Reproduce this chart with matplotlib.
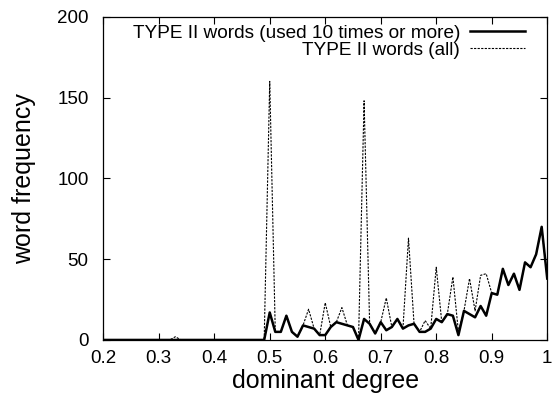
import numpy as np
import matplotlib
matplotlib.use("Agg")
import matplotlib.pyplot as plt

plt.rcParams['font.family'] = ['Liberation Sans', 'DejaVu Sans']

# dominant degree bins (0.20 .. 1.00, step 0.01)
degree = np.arange(20, 101) / 100.0

# TYPE II words used 10 times or more
freq_10plus = [0] * 29 + [
    0, 17, 5, 5, 15, 5, 2, 9, 8, 7,      # 0.49 - 0.58
    3, 3, 8, 11, 10, 9, 8, 0, 13, 10,    # 0.59 - 0.68
    4, 11, 6, 8, 13, 7, 9, 10, 5, 5,     # 0.69 - 0.78
    7, 13, 11, 16, 15, 3, 18, 16, 14, 21,  # 0.79 - 0.88
    15, 29, 28, 44, 34, 41, 31, 48, 45, 53,  # 0.89 - 0.98
    70, 38,                              # 0.99 - 1.00
]

# TYPE II words (all)
freq_all = [0] * 13 + [2] + [0] * 15 + [
    0, 160, 5, 5, 15, 5, 2, 9, 19, 7,    # 0.49 - 0.58
    3, 23, 8, 11, 20, 9, 8, 0, 148, 10,  # 0.59 - 0.68
    4, 11, 26, 8, 13, 7, 63, 10, 5, 12,  # 0.69 - 0.78
    7, 45, 11, 16, 39, 5, 18, 38, 18, 40,  # 0.79 - 0.88
    41, 29, 28, 44, 34, 41, 31, 48, 45, 53,  # 0.89 - 0.98
    70, 38,                              # 0.99 - 1.00
]

xticks = [0.2, 0.3, 0.4, 0.5, 0.6, 0.7, 0.8, 0.9, 1.0]
xticklabels = ['0.2', '0.3', '0.4', '0.5', '0.6', '0.7', '0.8', '0.9', '1']
yticks = [0, 50, 100, 150, 200]

fig = plt.figure(figsize=(5.55, 3.99), dpi=100)
ax = fig.add_axes([0.186, 0.148, 0.800, 0.810])

ax.plot(degree, freq_10plus, color='black', lw=1.8,
        label='TYPE II words (used 10 times or more)')
ax.plot(degree, freq_all, color='black', lw=0.8, dashes=(2, 1.2),
        label='TYPE II words (all)')

ax.set_xlim(0.2, 1.0)
ax.set_ylim(0, 200)
ax.set_xticks(xticks)
ax.set_xticklabels(xticklabels)
ax.set_yticks(yticks)
ax.tick_params(direction='in', top=True, right=True, length=5, width=0.8,
               labelsize=13.5)
ax.tick_params(axis='x', pad=7)
ax.tick_params(axis='y', pad=10.5)
for s in ax.spines.values():
    s.set_linewidth(0.9)

ax.set_xlabel('dominant degree', fontsize=18, labelpad=2)
ax.set_ylabel('word frequency', fontsize=18)
ax.yaxis.set_label_coords(-0.151, 0.5)

ax.legend(loc='upper right', frameon=False, markerfirst=False,
          fontsize=13.7, handlelength=2.9, handletextpad=0.52,
          labelspacing=0.0, borderaxespad=0.0, borderpad=0.0,
          bbox_to_anchor=(0.950, 0.977))

fig.savefig('out.png', dpi=100)
